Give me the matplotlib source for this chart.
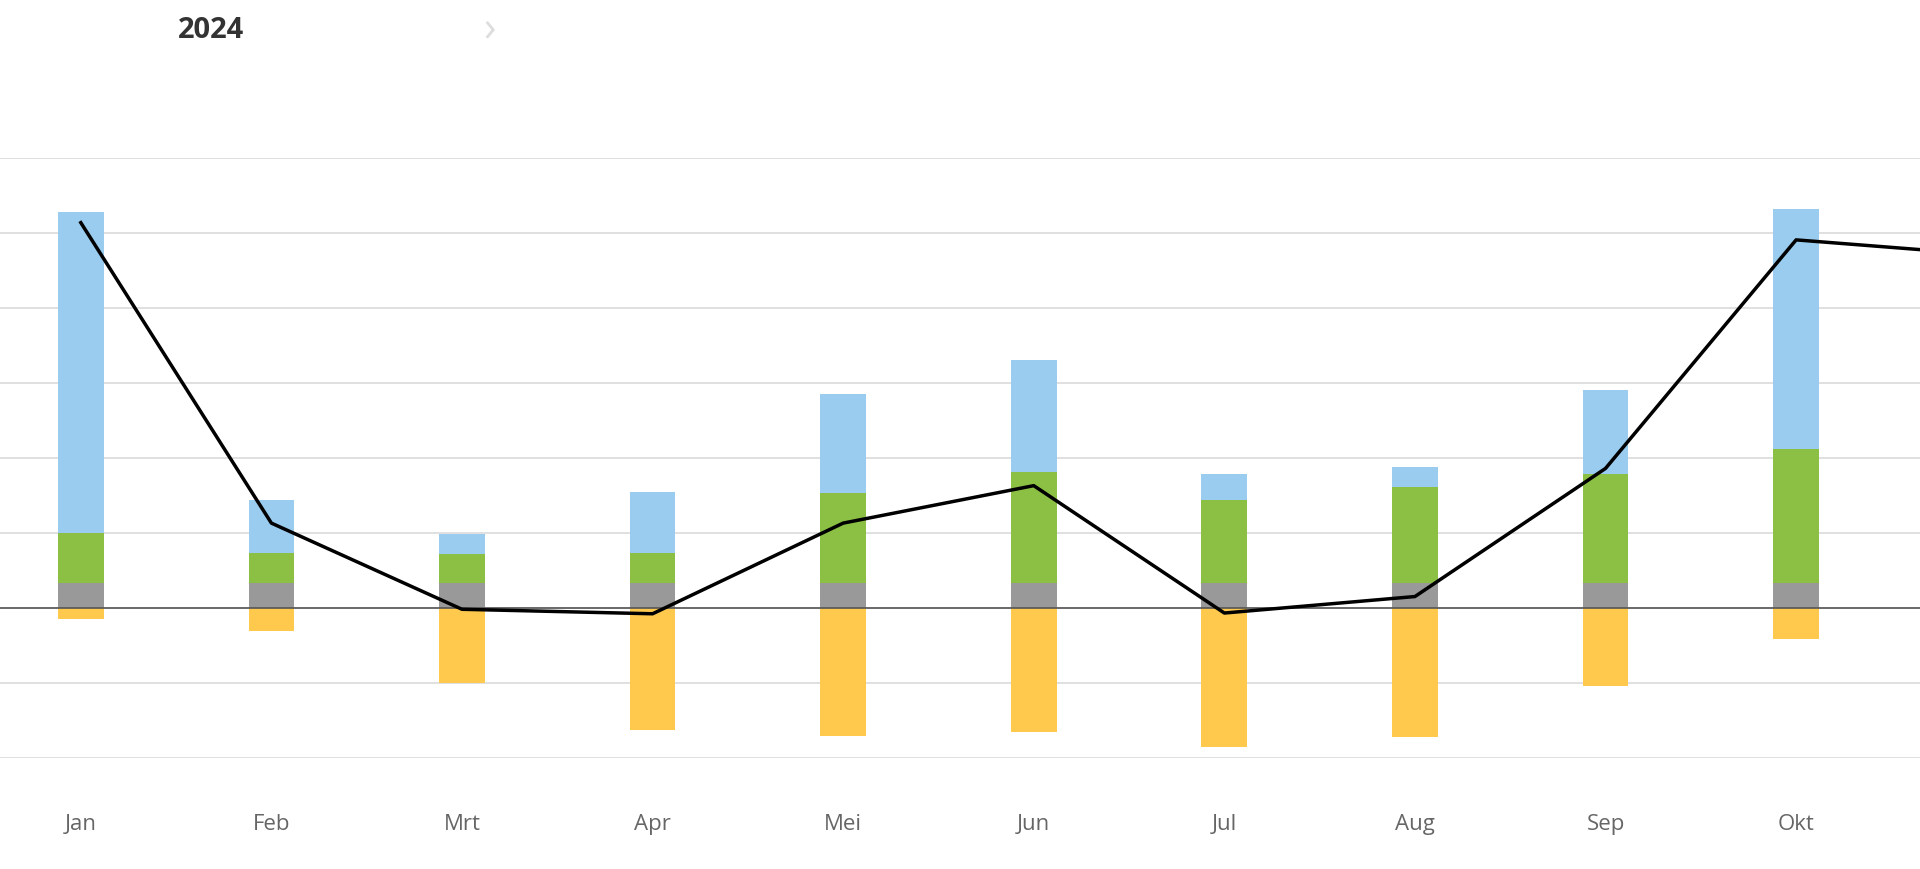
import numpy as np
import matplotlib.pyplot as plt

months = ['Jan', 'Feb', 'Mrt', 'Apr', 'Mei', 'Jun', 'Jul', 'Aug', 'Sep', 'Okt', 'Nov']
gray_vals = [0.33] * 10
green_top = [1.00, 0.73, 0.72, 0.73, 1.53, 1.81, 1.44, 1.61, 1.79, 2.12]
blue_top = [5.28, 1.44, 0.98, 1.55, 2.85, 3.31, 1.79, 1.88, 2.90, 5.32]
yellow_vals = [-0.15, -0.31, -1.01, -1.63, -1.71, -1.66, -1.86, -1.73, -1.04, -0.42]
line_vals = [5.14, 1.13, -0.02, -0.08, 1.13, 1.63, -0.07, 0.15, 1.86, 4.91, 4.71]

plt.rcParams['font.family'] = ['Open Sans', 'DejaVu Sans']

fig = plt.figure(figsize=(19.2, 8.7), dpi=100)
ax = fig.add_axes([0, 0.128, 1, 0.689])

x = np.arange(len(gray_vals))
w = 0.24
green_h = np.array(green_top) - np.array(gray_vals)
blue_h = np.array(blue_top) - np.array(green_top)
ax.bar(x, gray_vals, w, color='#999999', zorder=2)
ax.bar(x, green_h, w, bottom=gray_vals, color='#8BC044', zorder=2)
ax.bar(x, blue_h, w, bottom=green_top, color='#99CCEE', zorder=2)
ax.bar(x, yellow_vals, w, color='#FFC94D', zorder=2)

ax.plot(np.arange(len(line_vals)), line_vals, color='black', lw=2.5, zorder=3)

ax.set_xlim(-0.424, 9.65)
ax.set_ylim(-2, 6)
ax.set_yticks(range(-2, 7))
ax.yaxis.grid(True, color='#dddddd', lw=1.3, zorder=0)
ax.axhline(0, color='#555555', lw=1.2, zorder=2.5)
ax.tick_params(axis='y', left=False, labelleft=False)
ax.set_xticks(x)
ax.set_xticklabels(months[:10])
ax.tick_params(axis='x', length=0, pad=40, labelsize=16, labelcolor='#666666')
for s in ax.spines.values():
    s.set_visible(False)

fig.text(0.0925, 0.965, '2024', fontsize=21, fontweight='bold', color='#333333', va='center')
fig.text(0.252, 0.965, '›', fontsize=30, color='#dddddd', va='center')

fig.savefig('out.png', dpi=100)
